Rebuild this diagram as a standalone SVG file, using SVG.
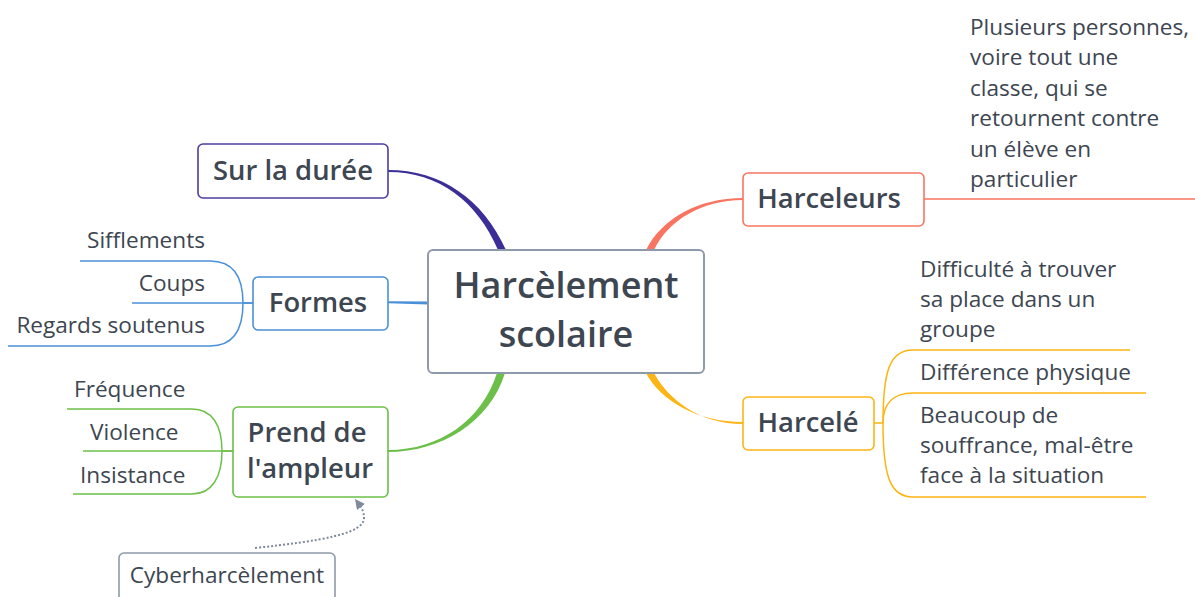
<svg xmlns="http://www.w3.org/2000/svg" width="1195" height="597" viewBox="0 0 1195 597">
<defs>
<style>
text{font-family:"Open Sans","Noto Sans","Liberation Sans",sans-serif;fill:#3d4651}
.t{font-size:22.6px}
.n{font-size:27.4px;font-weight:600;text-anchor:middle}
.c{font-size:36px;font-weight:600;text-anchor:middle}
.box{fill:#fff;stroke-width:1.6}
.sub{fill:none;stroke-width:1.5}
</style>
<marker id="arr" viewBox="0 0 10 10" refX="5" refY="5" markerWidth="5" markerHeight="5" orient="auto-start-reverse">
<path d="M0,0 L10,5 L0,10 z" fill="#7f8a9c"/>
</marker>
</defs>
<rect width="1195" height="597" fill="#fff"/>
<g id="connectors">
<path d="M388,170 C441,170 483,199 506,250 L498,250 C477,201 439,172 388,172 Z" fill="#3b2e96"/>
<path d="M388,301.3 L428,301.5 L428,304.5 L388,303.3 Z" fill="#4a90d9"/>
<path d="M388,450 C440,450 482,420 497,373 L505,373 C490,422 441,452 388,452 Z" fill="#6cc04a"/>
<path d="M743,198 C699,198 662,218 646,250 L654,250 C668,221 701,200 743,200 Z" fill="#f87561"/>
<path d="M743,422 C697,422 661,401 646,373 L654,373 C668,399 699,424 743,424 Z" fill="#fdb515"/>
<g stroke="#4a90d9" class="sub">
<path d="M253,303 L243,303 C243,276 233,261 210,261 L80,261"/>
<path d="M253,303 L132,303"/>
<path d="M243,303 C243,330 233,346 210,346 L8,346"/>
</g>
<g stroke="#6cc04a" class="sub">
<path d="M233,451 L222,451 C222,425 212,409 192,409 L67,409"/>
<path d="M233,451 L83,451"/>
<path d="M222,451 C222,477 212,494 192,494 L73,494"/>
</g>
<path class="sub" stroke="#f87561" d="M924,199 L1195,199"/>
<g stroke="#fdb515" class="sub">
<path d="M874,423 L883,423 C883,370 890,350 913,350 L1130,350"/>
<path d="M883,423 C883,404 893,393 913,393 L1146,393"/>
<path d="M883,423 C883,476 890,497 913,497 L1146,497"/>
</g>
<path d="M255,548 C320,541 364,534 364,518 C364,511 361,507 358,503" fill="none" stroke="#7f8a9c" stroke-width="2" stroke-dasharray="2 2" marker-end="url(#arr)"/>
</g>
<g id="central">
<rect x="428" y="250" width="276" height="123" rx="5" fill="#fff" stroke="#8e99ab" stroke-width="2"/>
<text class="c" x="566" y="298">Harcèlement</text>
<text class="c" x="566" y="347">scolaire</text>
</g>
<g id="sur-la-duree">
<rect class="box" x="198" y="144" width="190" height="54" rx="5" stroke="#4b3ea3"/>
<text class="n" x="293" y="180">Sur la durée</text>
</g>
<g id="formes">
<rect class="box" x="253" y="277" width="135" height="53" rx="5" stroke="#4a90d9"/>
<text class="n" x="318" y="312">Formes</text>
</g>
<g id="sifflements"><text class="t" x="205" y="248" text-anchor="end">Sifflements</text></g>
<g id="coups"><text class="t" x="205" y="291" text-anchor="end">Coups</text></g>
<g id="regards"><text class="t" x="205" y="333" text-anchor="end">Regards soutenus</text></g>
<g id="prend">
<rect class="box" x="233" y="407" width="155" height="90" rx="5" stroke="#6cc04a"/>
<text class="n" x="307" y="442">Prend de</text>
<text class="n" x="310" y="478">l'ampleur</text>
</g>
<g id="frequence"><text class="t" x="74" y="397">Fréquence</text></g>
<g id="violence"><text class="t" x="90" y="440">Violence</text></g>
<g id="insistance"><text class="t" x="80" y="483">Insistance</text></g>
<g id="cyber">
<rect x="119" y="553" width="216" height="60" rx="5" fill="#fff" stroke="#8e99ab" stroke-width="1.6"/>
<text class="t" x="227" y="583" text-anchor="middle">Cyberharcèlement</text>
</g>
<g id="harceleurs">
<rect class="box" x="743" y="173" width="181" height="53" rx="5" stroke="#f87561"/>
<text class="n" x="829" y="208">Harceleurs</text>
</g>
<g id="plusieurs">
<text class="t" x="970" y="35">Plusieurs personnes,</text>
<text class="t" x="970" y="65">voire tout une</text>
<text class="t" x="970" y="96">classe, qui se</text>
<text class="t" x="970" y="126">retournent contre</text>
<text class="t" x="970" y="157">un élève en</text>
<text class="t" x="970" y="187">particulier</text>
</g>
<g id="harcele">
<rect class="box" x="743" y="397" width="131" height="53" rx="5" stroke="#fdb515"/>
<text class="n" x="808" y="432">Harcelé</text>
</g>
<g id="difficulte">
<text class="t" x="920" y="277">Difficulté à trouver</text>
<text class="t" x="920" y="307">sa place dans un</text>
<text class="t" x="920" y="337">groupe</text>
</g>
<g id="difference"><text class="t" x="920" y="380">Différence physique</text></g>
<g id="beaucoup">
<text class="t" x="920" y="423">Beaucoup de</text>
<text class="t" x="920" y="453">souffrance, mal-être</text>
<text class="t" x="920" y="483">face à la situation</text>
</g>
</svg>
